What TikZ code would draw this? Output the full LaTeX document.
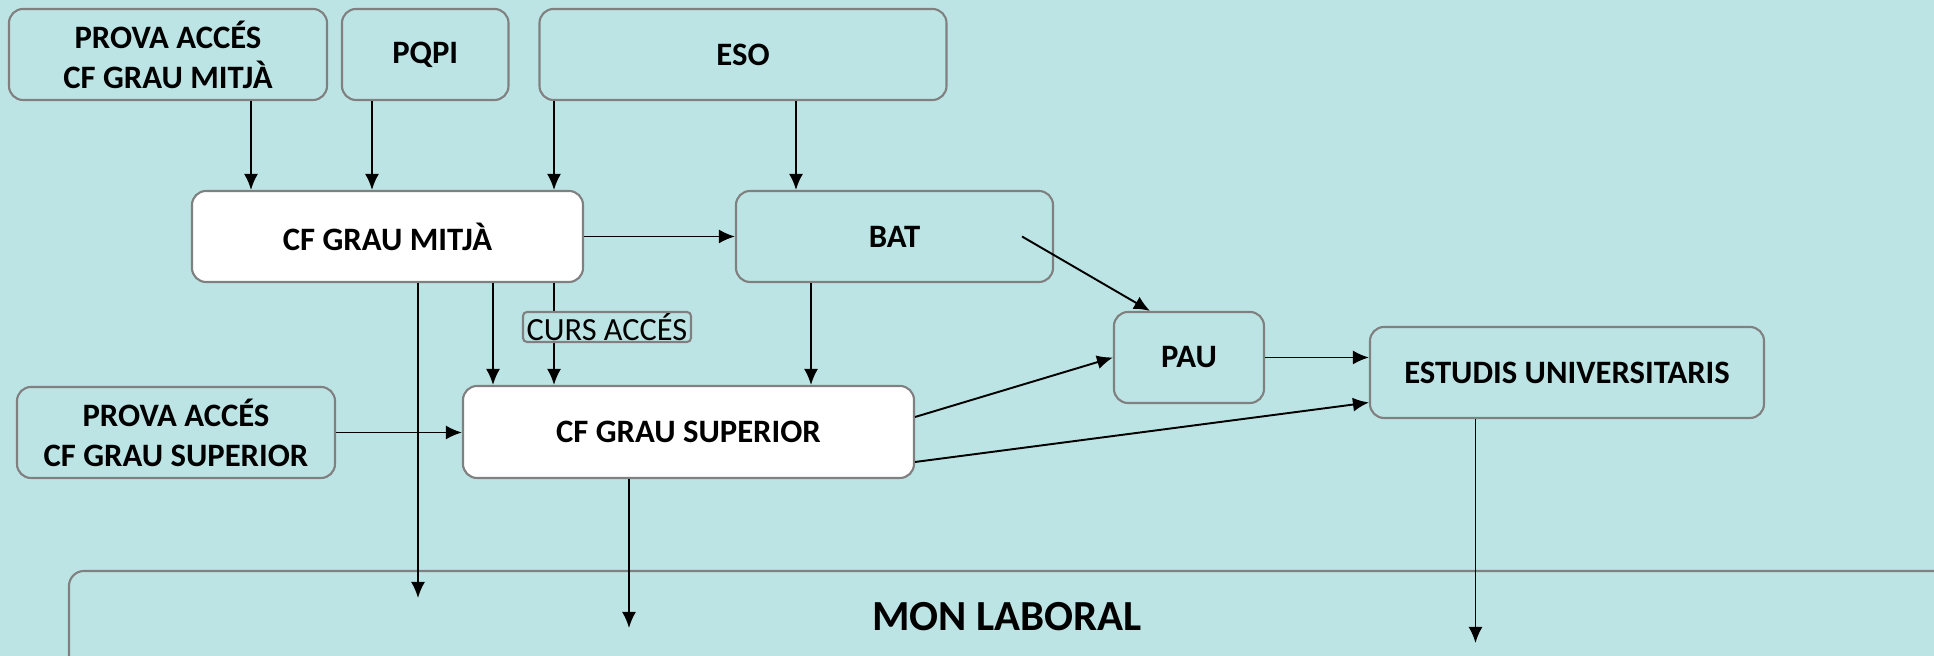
\documentclass[tikz,border=0pt]{standalone}
\usepackage{fontspec}
\setmainfont{Carlito}
\usetikzlibrary{arrows.meta}
\definecolor{bgteal}{RGB}{189,228,228}
\definecolor{boxgray}{RGB}{128,128,128}

\begin{document}
\begin{tikzpicture}[x=0.1mm, y=-0.1mm,
    box/.style={draw=boxgray, line width=0.6pt, rounded corners=1.4mm, fill=bgteal,
      align=center, inner sep=0pt, minimum height=9.1mm,
      font=\fontsize{9.3}{11.4}\selectfont\bfseries},
    whitebox/.style={box, fill=white},
    arr/.style={-{Latex[length=1.6mm,width=1.4mm]}, line width=0.55pt}]

  \useasboundingbox (0,0) rectangle (1934,656);
  \fill[bgteal] (0,0) rectangle (1934,656);

  \node[box, minimum width=31.8mm] (pgm) at (168,54.5) {PROVA ACCÉS\\CF GRAU MITJÀ};
  \node[box, minimum width=16.65mm] (pqpi) at (425.25,54.5) {PQPI};
  \node[box, minimum width=40.7mm] (eso) at (743,54.5) {ESO};
  \node[whitebox, minimum width=39.1mm] (cfgm) at (387.5,236.5) {CF GRAU MITJÀ};
  \node[box, minimum width=31.7mm] (bat) at (894.5,236.5) {BAT};
  \node[box, minimum width=31.8mm] (pgs) at (176,432.5) {PROVA ACCÉS\\CF GRAU SUPERIOR};
  \node[whitebox, minimum width=45.1mm, minimum height=9.2mm] (cfgs) at (688.5,432) {CF GRAU SUPERIOR};
  \node[box, minimum width=15mm] (pau) at (1189,357.5) {PAU};
  \node[box, minimum width=39.4mm] (eu) at (1567,372.5) {ESTUDIS UNIVERSITARIS};

  % mon laboral runs off the page
  \begin{scope}
    \clip (0,0) rectangle (1934,656);
    \draw[boxgray, line width=0.6pt, rounded corners=1.5mm] (69,571) rectangle (2000,720);
  \end{scope}
  \node[font=\fontsize{12.2}{14}\selectfont\bfseries] (laboral) at (1007,617) {MON LABORAL};

  \coordinate (gmout) at (418,598);
  \coordinate (gsout) at (629,628);
  \coordinate (euout) at (1475.5,643);

  \draw[arr] (251,0 |- pgm.south) -- (251,0 |- cfgm.north);
  \draw[arr] (372,0 |- pqpi.south) -- (372,0 |- cfgm.north);
  \draw[arr] (554,0 |- eso.south) -- (554,0 |- cfgm.north);
  \draw[arr] (796,0 |- eso.south) -- (796,0 |- bat.north);
  \draw[arr] (cfgm.east) -- (bat.west);

  \draw[arr] (gmout |- cfgm.south) -- (gmout);
  \draw[arr] (493,0 |- cfgm.south) -- (493,0 |- cfgs.north);
  \draw[arr] (554,0 |- cfgm.south) -- (554,0 |- cfgs.north);
  \draw[arr] (811,0 |- bat.south) -- (811,0 |- cfgs.north);
  \draw[arr] (pgs.east) -- (pgs.east -| cfgs.west);

  \draw[arr] ([xshift=12.75mm]bat.center) -- ([xshift=-3.9mm]pau.north);
  \draw[arr] ([yshift=1.5mm]cfgs.east) -- (pau.west);
  \draw[arr] ([yshift=-3mm]cfgs.east) -- ([yshift=-3mm]eu.west);
  \draw[arr] (pau.east) -- (pau.east -| eu.west);

  \draw[arr] (gsout |- cfgs.south) -- (gsout);
  \draw[arr] (euout |- eu.south) -- (euout);

  \node[draw=boxgray, fill=bgteal, line width=0.6pt, rounded corners=0.4mm, inner sep=0pt,
    minimum width=16.8mm, minimum height=3mm, font=\fontsize{9.2}{10}\selectfont] (curs) at (607,327) {CURS ACCÉS};

\end{tikzpicture}
\end{document}
